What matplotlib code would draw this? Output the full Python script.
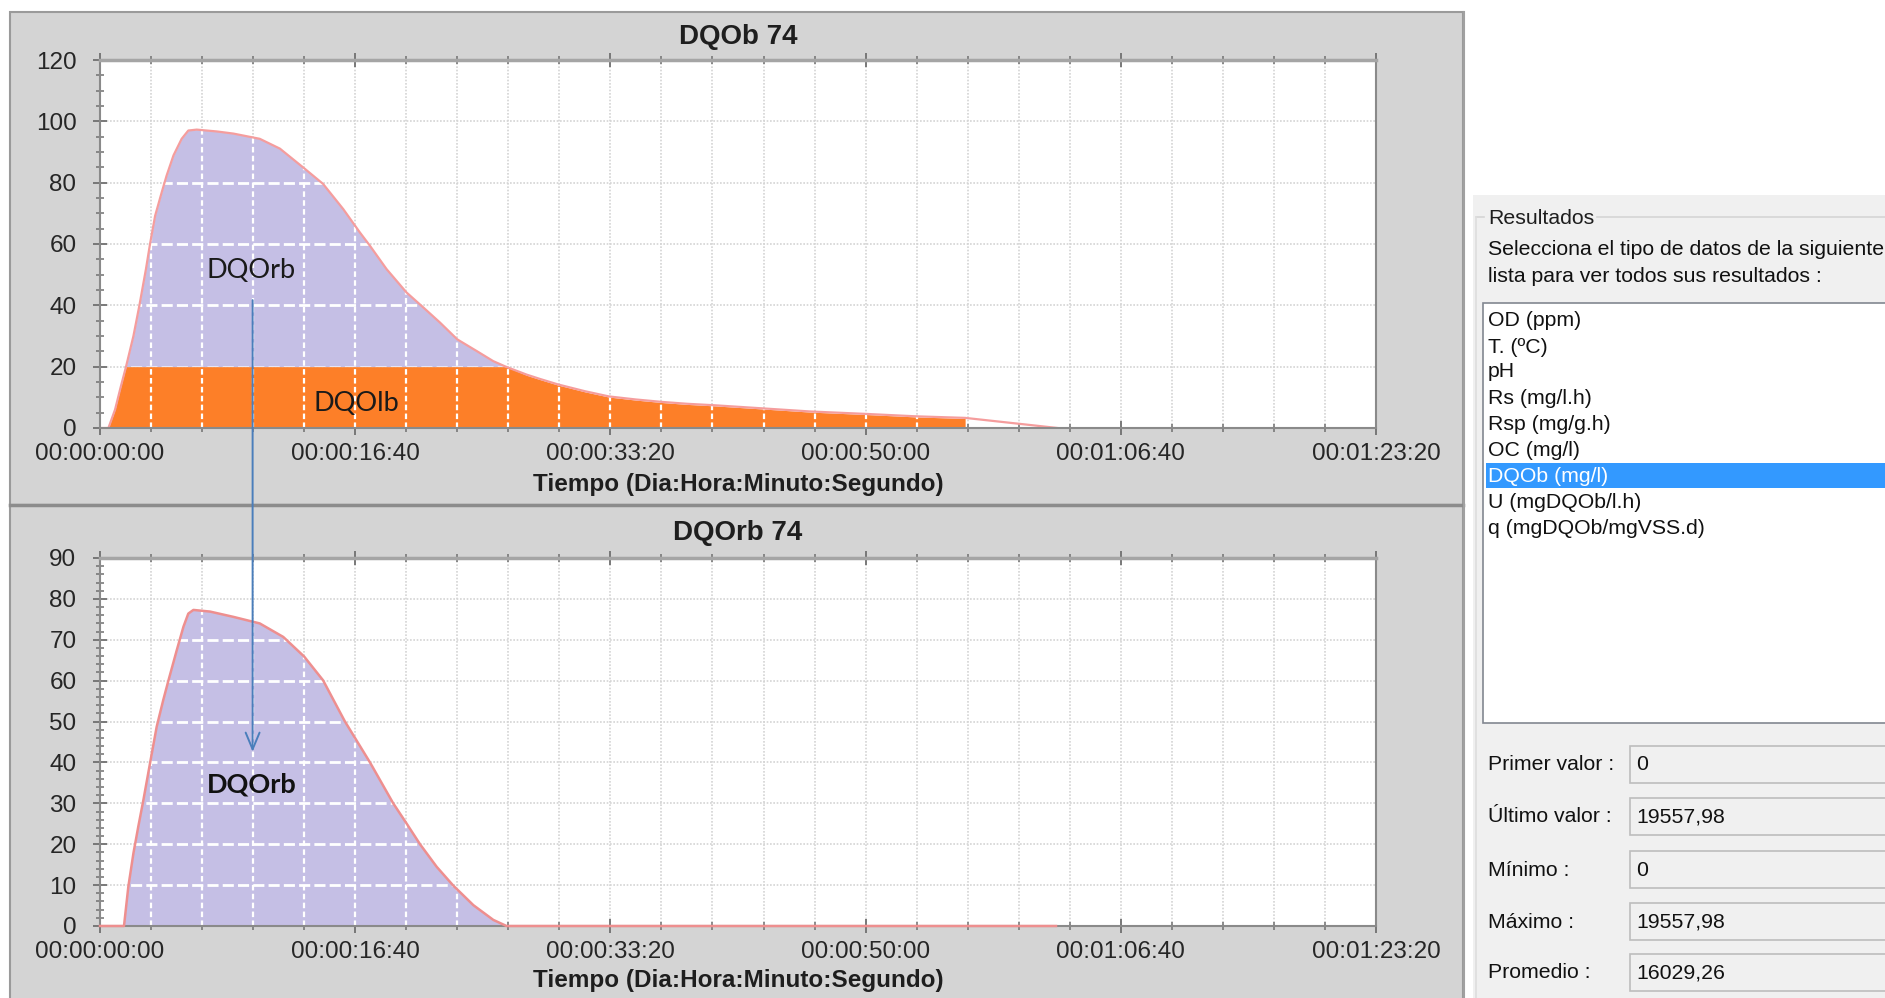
import matplotlib
matplotlib.use('Agg')
import matplotlib.pyplot as plt
from matplotlib.patches import Rectangle, ConnectionPatch
from matplotlib.lines import Line2D
from matplotlib.ticker import MultipleLocator, FuncFormatter
from matplotlib.path import Path

W, H = 1885, 998

# DQOb (total) - top chart, time in seconds
t_top = [0, 33, 59, 80, 102, 131, 154, 180, 196, 216, 242, 261, 288, 320, 346,
         379, 458, 523, 626, 705, 800, 874, 953, 1018, 1058, 1123, 1201, 1267, 1332,
         1400, 1476, 1541, 1590, 1672, 1724, 1795, 1900, 1994, 2100, 2203, 2300,
         2411, 2578, 2781, 3000, 3200, 3390, 3390, 3752]
dqob = [0, 0, 6, 13, 20, 30, 39.8, 51.8, 60, 69.2, 76.9, 82.3, 88.9, 94.3, 97,
        97.3, 96.7, 96, 94.3, 91.1, 84.7, 79.6, 71.4, 63.8, 59.4, 51.8, 44.2, 39.3, 34.4,
        28.9, 25.1, 21.8, 20, 17.4, 16.0, 14.2, 12, 10.3, 9.3, 8.5, 7.9,
        7.4, 6.5, 5.4, 4.6, 3.8, 3.3, 3.3, 0]
# DQOlb (orange part, capped at 20)
dqolb = [0, 0, 6, 13, 20, 20, 20, 20, 20, 20, 20, 20, 20, 20, 20,
         20, 20, 20, 20, 20, 20, 20, 20, 20, 20, 20, 20, 20, 20,
         20, 20, 20, 20, 17.2, 15.8, 14.0, 11.8, 10.1, 9.1, 8.3, 7.7,
         7.2, 6.3, 5.2, 4.4, 3.6, 3.1, 0, 0]

# DQOrb - bottom chart
t_bot = [0, 94, 111, 131, 150, 170, 196, 222, 248, 268, 301, 327, 346, 366, 431,
         523, 626, 718, 800, 874, 959, 1058, 1149, 1201, 1254, 1319, 1384, 1463, 1541,
         1593, 3746]
dqorb = [0, 0, 9.6, 17.8, 24.3, 30.8, 39.8, 48.7, 55.3, 60, 67.5, 73.2, 76.4, 77.3, 76.9,
         75.6, 74, 70.7, 65.9, 60.1, 50.1, 40, 30, 25.1, 20, 14.5, 9.9, 5.1, 1.5,
         0, 0]

list_items = ['OD (ppm)', 'T. (ºC)', 'pH', 'Rs (mg/l.h)', 'Rsp (mg/g.h)', 'OC (mg/l)',
              'DQOb (mg/l)', 'U (mgDQOb/l.h)', 'q (mgDQOb/mgVSS.d)']
selected = 'DQOb (mg/l)'
stat_labels = ['Primer valor :', 'Último valor :', 'Mínimo :', 'Máximo :', 'Promedio :']
stat_values = ['0', '19557,98', '0', '19557,98', '16029,26']

LAV = '#c5bfe5'
ORANGE = '#fd7f28'
PINK = '#f59d9d'
FONT = 'Liberation Sans'


def fmt_time(s, pos=None):
    s = int(round(s))
    d, r = divmod(s, 86400)
    h, r = divmod(r, 3600)
    m, sec = divmod(r, 60)
    return f'{d:02d}:{h:02d}:{m:02d}:{sec:02d}'


def fbox(x0, y0, x1, y1):
    return [x0 / W, 1 - y1 / H, (x1 - x0) / W, (y1 - y0) / H]


def add_rect(fig, x0, y0, x1, y1, fc, ec='none', lw=0, z=-5):
    r = Rectangle((x0 / W, 1 - y1 / H), (x1 - x0) / W, (y1 - y0) / H,
                  transform=fig.transFigure, facecolor=fc, edgecolor=ec, lw=lw, zorder=z)
    fig.add_artist(r)


def add_line(fig, xs, ys, color, lw, z=-2):
    fig.add_artist(Line2D([x / W for x in xs], [1 - y / H for y in ys],
                          transform=fig.transFigure, color=color, lw=lw, zorder=z))


def put_text(fig, x, y, s, **kw):
    kw.setdefault('family', FONT)
    kw.setdefault('va', 'center')
    fig.text(x / W, 1 - y / H, s, **kw)


def setup_axes(ax, ymax, ymaj, ymin):
    ax.set_facecolor('white')
    ax.set_xlim(0, 5000)
    ax.set_ylim(0, ymax)
    ax.xaxis.set_major_locator(MultipleLocator(1000))
    ax.xaxis.set_minor_locator(MultipleLocator(200))
    ax.yaxis.set_major_locator(MultipleLocator(ymaj))
    ax.yaxis.set_minor_locator(MultipleLocator(ymin))
    ax.xaxis.set_major_formatter(FuncFormatter(fmt_time))
    ax.set_axisbelow(True)
    ax.grid(which='both', axis='x', color='#d4d4d4', ls=(0, (1, 1)), lw=1.2)
    ax.grid(which='major', axis='y', color='#d4d4d4', ls=(0, (1, 1)), lw=1.2)
    ax.tick_params(which='both', direction='inout', top=True, right=False,
                   colors='#707070', labelcolor='#262626')
    ax.tick_params(which='major', length=10, width=1.3, labelsize=17.5)
    ax.tick_params(which='minor', length=6, width=1.1)
    ax.tick_params(axis='x', which='major', pad=6)
    ax.tick_params(axis='y', which='major', pad=12)
    for lab in ax.get_xticklabels() + ax.get_yticklabels():
        lab.set_family(FONT)
    for side in ['left', 'bottom', 'right']:
        ax.spines[side].set_color('#8a8a8a')
        ax.spines[side].set_linewidth(1.5)
    ax.spines['top'].set_color('#a5a5a5')
    ax.spines['top'].set_linewidth(2.5)


def white_grid(ax, coll, xs, ys):
    paths = coll.get_paths()
    if not paths:
        return
    path = Path.make_compound_path(*paths)
    for x in xs:
        ln = ax.axvline(x, color='white', lw=1.6, ls=(0, (2.5, 1.5)), zorder=1.5)
        ln.set_clip_path(path, ax.transData)
    for y in ys:
        ln = ax.axhline(y, color='white', lw=2.0, ls=(0, (4, 1.5)), zorder=1.5)
        ln.set_clip_path(path, ax.transData)


fig = plt.figure(figsize=(W / 100, H / 100), dpi=100)
fig.patch.set_facecolor('white')

# window panels
add_rect(fig, 10, 12, 1463, 505, '#d4d4d4', ec='#9a9a9a', lw=1.5)
add_rect(fig, 10, 505, 1463, 1002, '#d4d4d4', ec='#9a9a9a', lw=1.5)
add_line(fig, [10, 1463], [505, 505], '#8c8c8c', 2.5)
add_line(fig, [1464, 1464], [12, 998], '#a0a0a0', 1.5)

# top chart
ax1 = fig.add_axes(fbox(100, 60, 1376, 428))
setup_axes(ax1, 120, 20, 5)
lav1 = ax1.fill_between(t_top, dqolb, dqob, where=[v >= 20 for v in dqob],
                        color=LAV, lw=0, zorder=1)
org1 = ax1.fill_between(t_top, 0, dqolb, color=ORANGE, lw=0, zorder=1)
white_grid(ax1, lav1, range(200, 5000, 200), range(20, 120, 20))
white_grid(ax1, org1, range(200, 5000, 200), [])
ax1.plot(t_top, dqob, color=PINK, lw=1.6, zorder=2.5)
ax1.text(592, 51.3, 'DQOrb', family='Lato', fontsize=19.5, ha='center', va='center',
         color='#1a1a1a', zorder=6)
ax1.text(1006, 8.0, 'DQOlb', family='Lato', fontsize=19.5, ha='center', va='center',
         color='#1a1a1a', zorder=6)

# bottom chart
ax2 = fig.add_axes(fbox(100, 558, 1376, 926))
setup_axes(ax2, 90, 10, 2)
lav2 = ax2.fill_between(t_bot, 0, dqorb, color=LAV, lw=0, zorder=1)
white_grid(ax2, lav2, range(200, 5000, 200), range(10, 90, 10))
ax2.plot(t_bot, dqorb, color='#ee8f8f', lw=1.8, zorder=3, clip_on=False)
ax2.text(593, 34.7, 'DQOrb', family='Lato', fontweight='bold', fontsize=19.5,
         ha='center', va='center', color='#111111', zorder=6)

# titles and axis labels
put_text(fig, 738, 37, 'DQOb 74', ha='center', fontsize=20, fontweight='bold', color='#1e1e1e')
put_text(fig, 738, 485, 'Tiempo (Dia:Hora:Minuto:Segundo)', ha='center', fontsize=17.5,
         fontweight='bold', color='#1e1e1e')
put_text(fig, 738, 533, 'DQOrb 74', ha='center', fontsize=20, fontweight='bold', color='#1e1e1e')
put_text(fig, 738, 981, 'Tiempo (Dia:Hora:Minuto:Segundo)', ha='center', fontsize=17.5,
         fontweight='bold', color='#1e1e1e')

# arrow from top DQOrb label to bottom chart
arrow = ConnectionPatch(xyA=(598, 41.7), coordsA='data', axesA=ax1,
                        xyB=(598, 42.6), coordsB='data', axesB=ax2,
                        arrowstyle='->,head_length=1.2,head_width=0.5', mutation_scale=10,
                        color='#4a7ebb', lw=1.4, zorder=10)
fig.add_artist(arrow)

# right side panel "Resultados"
add_rect(fig, 1473, 195, 1895, 1002, '#f0f0f0')
add_line(fig, [1476, 1484], [217, 217], '#d5d5d5', 1.2)
add_line(fig, [1597, 1890], [217, 217], '#d5d5d5', 1.2)
add_line(fig, [1476, 1476], [217, 998], '#dddddd', 1.2)
put_text(fig, 1488, 218, 'Resultados', fontsize=15.3, color='#1e1e1e')
put_text(fig, 1488, 250, 'Selecciona el tipo de datos de la siguiente', fontsize=15.3, color='#111111')
put_text(fig, 1488, 277, 'lista para ver todos sus resultados :', fontsize=15.3, color='#111111')

add_rect(fig, 1483, 303, 1895, 723, 'white', ec='#828790', lw=1.2, z=-4)
item_y = [320, 347, 372, 398, 425, 451, 476, 503, 528]
for yy, item in zip(item_y, list_items):
    if item == selected:
        add_rect(fig, 1486, yy - 13, 1895, yy + 12, '#3399ff', z=-3)
        put_text(fig, 1488, yy, item, fontsize=15.3, color='white')
    else:
        put_text(fig, 1488, yy, item, fontsize=15.3, color='#111111')

stat_y = [765, 817, 870, 922, 973]
for yy, lab, val in zip(stat_y, stat_labels, stat_values):
    add_rect(fig, 1630, yy - 19, 1895, yy + 18, '#f0f0f0', ec='#bdbdbd', lw=1.2, z=-4)
    put_text(fig, 1488, yy, lab, fontsize=15.3, color='#111111')
    put_text(fig, 1636, yy, val, fontsize=15.3, color='#111111')

fig.savefig('out.png', dpi=100)
